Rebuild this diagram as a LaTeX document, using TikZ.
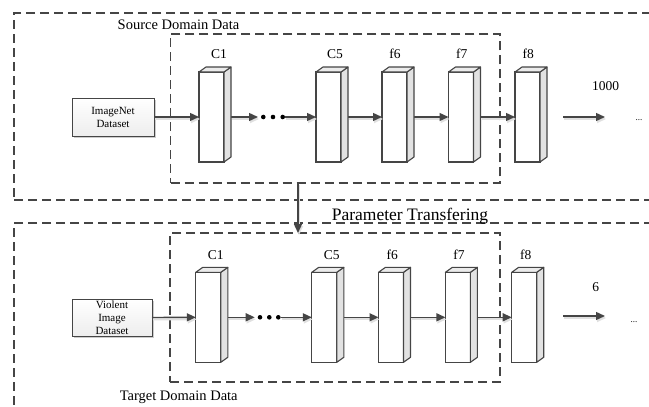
\documentclass[tikz,border=0pt]{standalone}
\usepackage{fontspec}
\setmainfont{Liberation Serif}
\usetikzlibrary{arrows.meta,shadows,calc}
\definecolor{linec}{HTML}{454545}
\definecolor{sideg}{HTML}{E2E2E2}
\definecolor{topg}{HTML}{EBEBEB}
\tikzset{
  dashbox/.style={draw=linec,line width=1.2pt,dash pattern=on 9pt off 5pt,inner sep=0pt,outer sep=0pt},
  blk/.style={draw=linec,fill=white,line width=1.1pt,minimum width=25pt,minimum height=90pt,inner sep=0pt,outer sep=0pt},
  blkface/.style={draw=linec,line width=1.1pt,line join=round},
  arr/.style={draw=linec,line width=1.4pt,-{Triangle[length=9pt,width=8pt]},
    preaction={draw=black!12,line width=2pt,transform canvas={shift={(1pt,-2pt)}}}},
  lbl/.style={font=\fontsize{13.5}{15}\selectfont,anchor=base,inner sep=0pt},
  title/.style={font=\fontsize{14.5}{16}\selectfont,anchor=base,inner sep=0pt},
  ptitle/.style={font=\fontsize{17.5}{19}\selectfont,anchor=base,inner sep=0pt},
  inbox/.style={draw=linec,line width=1pt,top color=white,bottom color=black!7,
    drop shadow={shadow xshift=2pt,shadow yshift=-2pt,opacity=0.2,fill=black},
    align=center,font=\fontsize{11}{13}\selectfont,inner sep=0pt,outer sep=0pt},
  dotc/.style={circle,fill=black,inner sep=0pt,minimum size=4.6pt,outer sep=0pt},
}
\newcommand{\blockfaces}[1]{%
  \filldraw[blkface,fill=sideg] (#1.north east) -- ([shift={(7,-5)}]#1.north east) -- ([shift={(7,-5)}]#1.south east) -- (#1.south east) -- cycle;
  \filldraw[blkface,fill=topg] (#1.north west) -- ([shift={(7,-5)}]#1.north west) -- ([shift={(7,-5)}]#1.north east) -- (#1.north east) -- cycle;}
\begin{document}
\begin{tikzpicture}[x=1pt,y=-1pt]
\useasboundingbox (0,0) rectangle (649,407);
\clip (0,0) rectangle (649,407);
% outer domain boxes
\node[dashbox,minimum width=666pt,minimum height=187pt] (outa) at (347,106.5) {};
\node[dashbox,minimum width=666pt,minimum height=217pt] (outb) at (347,331.5) {};
% inner boxes
\node[dashbox,minimum width=329.3pt,minimum height=149pt] (ina) at (335.3,108.5) {};
\node[dashbox,minimum width=330pt,minimum height=149pt] (inb) at (335,307.5) {};
% titles
\node[title] (srct) at (178.5,29) {Source Domain Data};
\node[title] (tgtt) at (178.7,400.7) {Target Domain Data};
\node[ptitle] (part) at (410,220.7) {Parameter Transfering};
% transfer connector
\coordinate (tx) at (298,0);
\draw[arr] (tx |- ina.south) -- (tx |- inb.north);
% ---------- top row ----------
\node[inbox,minimum width=82pt,minimum height=38pt] (imgnet) at (113,117) {ImageNet\\Dataset};
\node[blk] (a1) at (211.5,117) {};
\node[blk] (a5) at (328.5,117) {};
\node[blk] (a6) at (394.5,117) {};
\node[blk] (a7) at (461,117) {};
\node[blk] (a8) at (527.5,117) {};
\node[dotc] (ad1) at (263.3,117) {};
\node[dotc] (ad2) at (273,117) {};
\node[dotc] (ad3) at (282.7,117) {};
\coordinate (ao1) at (563,117);
\coordinate (ao2) at (605,117);
\node[lbl] (la1) at (219,58.3) {C1};
\node[lbl] (la5) at (335,58.3) {C5};
\node[lbl] (la6) at (395,58.3) {f6};
\node[lbl] (la7) at (461.7,58.3) {f7};
\node[lbl] (la8) at (528.3,58.3) {f8};
\node[lbl] (lao) at (605.7,90) {1000};
\node[lbl,font=\fontsize{9}{10}\selectfont] (ael) at (639,120.7) {...};
\draw[arr] (imgnet.east) -- (a1.west);
\draw[arr,shorten >=3pt] ([xshift=7pt]a1.east) -- (ad1.west);
\draw[arr] (ad3.east) -- (a5.west);
\draw[arr] ([xshift=7pt]a5.east) -- (a6.west);
\draw[arr] ([xshift=7pt]a6.east) -- (a7.west);
\draw[arr] ([xshift=7pt]a7.east) -- (a8.west);
\draw[arr] (ao1) -- (ao2);
\blockfaces{a1}\blockfaces{a5}\blockfaces{a6}\blockfaces{a7}\blockfaces{a8}
% ---------- bottom row ----------
\node[inbox,minimum width=80pt,minimum height=37pt] (viol) at (112,317.5) {Violent\\Image\\Dataset};
\node[blk] (b1) at (208.3,317.3) {};
\node[blk] (b5) at (324.3,317.3) {};
\node[blk] (b6) at (391,317.3) {};
\node[blk] (b7) at (457.9,317.3) {};
\node[blk] (b8) at (524.2,317.3) {};
\node[dotc] (bd1) at (260,317.3) {};
\node[dotc] (bd2) at (269.3,317.3) {};
\node[dotc] (bd3) at (278.3,317.3) {};
\coordinate (bo1) at (563,316);
\coordinate (bo2) at (605,316);
\node[lbl] (lb1) at (215.7,259.3) {C1};
\node[lbl] (lb5) at (331.7,259.3) {C5};
\node[lbl] (lb6) at (392.3,259.3) {f6};
\node[lbl] (lb7) at (459,259.3) {f7};
\node[lbl] (lb8) at (525.7,259.3) {f8};
\node[lbl] (lbo) at (595.7,291.7) {6};
\node[lbl,font=\fontsize{9}{10}\selectfont] (bel) at (634,322.3) {...};
\draw[arr] (viol.east) -- (b1.west);
\draw[arr,shorten >=3pt] ([xshift=7pt]b1.east) -- (bd1.west);
\draw[arr] (bd3.east) -- (b5.west);
\draw[arr] ([xshift=7pt]b5.east) -- (b6.west);
\draw[arr] ([xshift=7pt]b6.east) -- (b7.west);
\draw[arr] ([xshift=7pt]b7.east) -- (b8.west);
\draw[arr] (bo1) -- (bo2);
\blockfaces{b1}\blockfaces{b5}\blockfaces{b6}\blockfaces{b7}\blockfaces{b8}
\end{tikzpicture}
\end{document}
